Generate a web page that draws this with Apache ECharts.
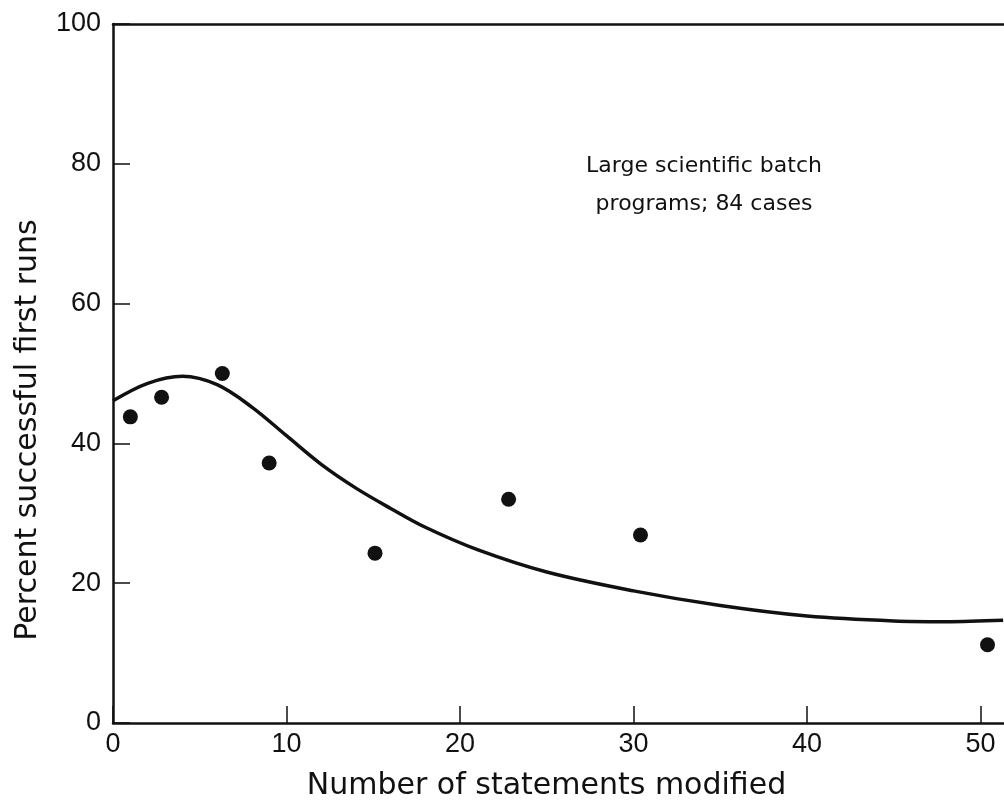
<!DOCTYPE html>
<html>
<head>
<meta charset="utf-8">
<title>Percent successful first runs</title>
<script src="https://cdn.jsdelivr.net/npm/echarts@6/dist/echarts.min.js"></script>
<style>
  html, body { margin: 0; padding: 0; background: #fff; }
  #chart { width: 1004px; height: 808px; }
</style>
</head>
<body>
<div id="chart"></div>
<script>
// observed points: [statements modified, percent successful]
const pointsX = [1.0, 2.8, 6.3, 9.0, 15.1, 22.8, 30.4, 50.4];
const pointsY = [43.8, 46.6, 50.0, 37.2, 24.3, 32.0, 26.9, 11.2];

// fitted curve
const curveX = [0, 2, 4, 6, 8, 10, 12, 14, 16, 18, 21, 25, 30, 35, 40, 45, 48, 51.3];
const curveY = [46.1, 48.6, 49.6, 48.4, 45.2, 41.1, 37.0, 33.6, 30.7, 28.0, 24.8, 21.6, 18.9, 16.8, 15.3, 14.6, 14.5, 14.7];

const xTicks = [0, 10, 20, 30, 40, 50];
const yTicks = [0, 20, 40, 60, 80, 100];
const xTitle = 'Number of statements modified';
const yTitle = 'Percent successful first runs';
const note = ['Large scientific batch', 'programs; 84 cases'];

const font = 'DejaVu Sans';
const ink = '#111';

const chart = echarts.init(document.getElementById('chart'));

chart.setOption({
  animation: false,
  grid: { left: 113, right: 0, top: 24, bottom: 85 },
  xAxis: [
    {
      type: 'value',
      min: 0,
      max: 51.35,
      interval: 10,
      name: xTitle,
      nameLocation: 'middle',
      nameGap: 48,
      nameTextStyle: { fontFamily: font, fontSize: 30, color: ink, padding: [0, 24, 0, 0] },
      axisLine: { lineStyle: { color: ink, width: 2.5 } },
      axisTick: { inside: true, length: 17, lineStyle: { color: ink, width: 1.5 } },
      axisLabel: {
        fontFamily: 'Liberation Sans', fontSize: 27, color: ink, margin: 8,
        showMaxLabel: false,
        formatter: v => (xTicks.includes(v) ? String(v) : ''),
      },
      splitLine: { show: false },
    },
    {
      type: 'value',
      position: 'top',
      min: 0,
      max: 51.35,
      axisLine: { lineStyle: { color: ink, width: 2.5 } },
      axisTick: { show: false },
      axisLabel: { show: false },
      splitLine: { show: false },
    },
  ],
  yAxis: {
    type: 'value',
    min: 0,
    max: 100,
    interval: 20,
    axisLine: { show: true, lineStyle: { color: ink, width: 2.5 } },
    axisTick: { show: true, inside: true, length: 17, lineStyle: { color: ink, width: 1.5 } },
    axisLabel: {
      fontFamily: 'Liberation Sans', fontSize: 27, color: ink, margin: 12,
      formatter: v => (yTicks.includes(v) ? String(v) : ''),
    },
    splitLine: { show: false },
  },
  graphic: [
    {
      type: 'text',
      x: 28,
      y: 430,
      rotation: Math.PI / 2,
      style: {
        text: yTitle,
        fontFamily: font,
        fontSize: 30,
        fill: ink,
        align: 'center',
        verticalAlign: 'middle',
      },
    },
  ].concat(note.map((t, i) => ({
    type: 'text',
    x: 704,
    y: 166 + i * 38,
    style: {
      text: t,
      fontFamily: font,
      fontSize: 22,
      fill: ink,
      align: 'center',
      verticalAlign: 'middle',
    },
  }))),
  series: [
    {
      type: 'line',
      data: curveX.map((x, i) => [x, curveY[i]]),
      smooth: 0.35,
      showSymbol: false,
      lineStyle: { color: ink, width: 3.5 },
      z: 3,
    },
    {
      type: 'scatter',
      data: pointsX.map((x, i) => [x, pointsY[i]]),
      symbol: 'circle',
      symbolSize: 15,
      itemStyle: { color: ink, opacity: 1 },
      z: 4,
    },
  ],
});
</script>
</body>
</html>
